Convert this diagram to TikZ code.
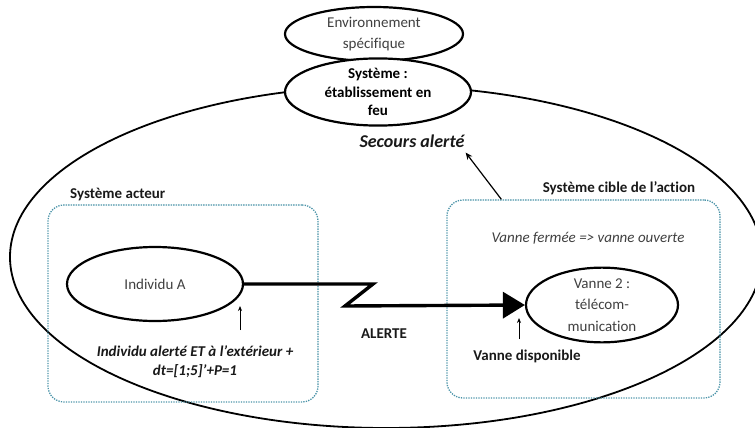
\documentclass[tikz,border=0pt]{standalone}
\usepackage{fontspec}
\setmainfont{Carlito}[Ligatures=NoCommon]
\usetikzlibrary{arrows.meta,positioning,shapes.geometric}
\definecolor{sysgray}{HTML}{404040}
\definecolor{sysdots}{HTML}{4A93A8}
\tikzset{
  sysellipse/.style={
    ellipse, draw=black, fill=white, line width=2.2pt,
    inner sep=0pt, align=center, text=sysgray,
    font=\fontsize{15}{21}\selectfont
  },
  sysouter/.style={ellipse, draw=black, line width=1.8pt, inner sep=0pt},
  sysbox/.style={
    draw=sysdots, line width=1.3pt, rounded corners=16pt,
    dash pattern=on 1.3pt off 1.2pt, inner sep=0pt
  },
  syslabel/.style={font=\fontsize{15}{19}\selectfont\bfseries, text=black!90, inner sep=1pt},
  syscond/.style={font=\fontsize{15}{19}\selectfont\bfseries\itshape, text=black!90, align=center, inner sep=1pt},
  sysnote/.style={font=\fontsize{15}{19}\selectfont\itshape, text=sysgray, inner sep=1pt},
  sysalert/.style={line width=3.4pt, line join=miter, -{Triangle[length=22pt,width=26pt]}},
  syspoint/.style={line width=0.8pt, -{Stealth[length=5pt,width=4pt]}},
  sysedge/.style={line width=1.2pt, -{Stealth[length=7pt,width=6pt]}}
}
\begin{document}
\begin{tikzpicture}[x=1pt,y=-1pt]
  \useasboundingbox (0,0) rectangle (755,428);
  \clip (0,0) rectangle (755,428);
  % outer system
  \node[sysouter,minimum width=752,minimum height=342] (etab) at (386,257) {};
  \node[sysellipse,minimum width=178,minimum height=54] (env) at (374,34) {Environnement\\spécifique};
  \node[sysellipse,minimum width=186,minimum height=64,text=black,font=\fontsize{15}{18.5}\selectfont\bfseries] (sys) at (378,92) {Système :\\établissement en\\feu};
  \node[syscond,font=\fontsize{18}{20}\selectfont\bfseries\itshape] (secours) at (412,141) {Secours alerté};

  % subsystems
  \node[sysbox,minimum width=270,minimum height=197] (acteur) at (183,303.5) {};
  \node[sysbox,minimum width=273,minimum height=198] (cible) at (583.5,299) {};
  \node[syslabel,anchor=west] (acteurlbl) at (69,194) {Système acteur};
  \node[syslabel] (ciblelbl) at (619,188) {Système cible de l’action};
  \node[sysnote] (etat) at (588,238) {Vanne fermée => vanne ouverte};

  % elements
  \node[sysellipse,minimum width=176,minimum height=74] (indiv) at (155,284) {Individu A};
  \node[sysellipse,minimum width=152,minimum height=74,font=\fontsize{15}{21.5}\selectfont] (vanne) at (602,305) {Vanne 2 :\\télécom-\\munication};

  % alert path
  \coordinate (zigA) at (373,284);
  \coordinate (zigB) at (345,306);
  \draw[sysalert] (indiv.east) -- (zigA) -- (zigB) -- (vanne.west);
  \node[syslabel] (alerte) at (384,334) {ALERTE};

  % conditions
  \coordinate (condA) at (240,330);
  \coordinate (condB) at (519,339);
  \draw[syspoint] (condA) -- ++(0,-24);
  \draw[syspoint] (condB) -- ++(0,-21);
  \node[syscond] (alerteind) at (195,362) {Individu alerté ET à l’extérieur +\\dt=[1;5]’+P=1};
  \node[syslabel] (dispo) at (527,356) {Vanne disponible};

  \draw[sysedge] ([xshift=55]cible.north west) -- ([yshift=-4]secours.south east);
\end{tikzpicture}
\end{document}
